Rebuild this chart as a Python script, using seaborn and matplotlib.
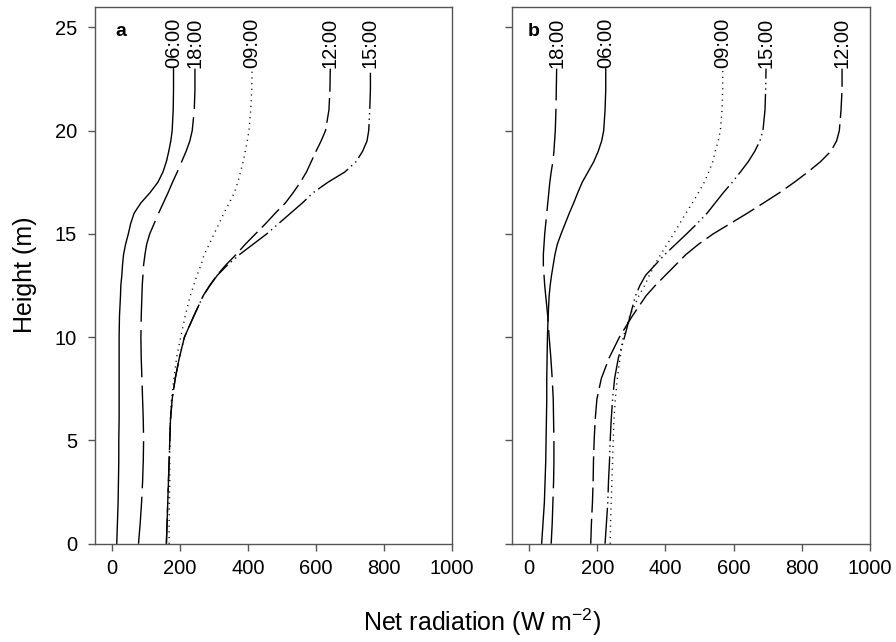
import numpy as np
import pandas as pd
import seaborn as sns
import matplotlib.pyplot as plt

# Heights (m) at which the profiles were read
height = [0, 1, 2, 3, 4, 5, 6, 7, 8, 9, 10, 11, 12, 12.5, 13, 13.5, 14, 14.5,
          15, 15.5, 16, 16.5, 17, 17.5, 18, 18.5, 19, 19.5, 20, 21, 22, 23]

# Panel a: net radiation (W m-2)
a_0600 = [14, 16, 18, 19, 20, 20, 21, 21, 21, 21, 21, 22, 25, 26, 29, 31, 34, 40,
          48, 55, 65, 85, 112, 135, 150, 160, 167, 173, 177, 180, 181, 181]
a_1800 = [78, 83, 87, 90, 92, 93, 92, 90, 88, 86, 85, 86, 88, 89, 91, 93, 97, 102,
          111, 124, 137, 151, 165, 178, 192, 205, 218, 229, 236, 242, 244, 244]
a_0900 = [168, 168, 169, 170, 170, 170, 172, 175, 182, 190, 202, 215, 230, 240, 250, 262, 271, 286,
          300, 315, 329, 345, 360, 370, 378, 386, 392, 398, 403, 408, 411, 412]
a_1200 = [160, 162, 164, 166, 168, 170, 172, 177, 186, 198, 213, 240, 268, 287, 309, 335, 365, 392,
          422, 452, 480, 510, 533, 554, 572, 586, 600, 615, 628, 638, 641, 642]
a_1500 = [160, 162, 164, 166, 168, 170, 172, 177, 186, 198, 213, 240, 268, 288, 310, 340, 375, 415,
          455, 490, 525, 560, 592, 635, 685, 718, 737, 750, 755, 758, 760, 760]

# Panel b: net radiation (W m-2)
b_0600 = [37, 41, 45, 47, 49, 50, 51, 52, 52, 53, 54, 56, 59, 62, 66, 71, 76, 83,
          94, 106, 118, 131, 143, 156, 173, 190, 203, 213, 219, 223, 225, 225]
b_1800 = [65, 68, 70, 72, 73, 73, 72, 71, 68, 64, 59, 55, 49, 46, 44, 42, 42, 44,
          46, 49, 52, 55, 58, 61, 65, 70, 73, 75, 77, 79, 80, 81]
b_0900 = [238, 239, 241, 243, 245, 247, 249, 253, 259, 267, 276, 295, 322, 339, 353, 368, 386, 405,
          424, 442, 460, 479, 497, 514, 527, 539, 546, 555, 561, 566, 568, 568]
b_1200 = [181, 183, 186, 188, 189, 191, 194, 199, 212, 235, 265, 302, 343, 370, 400, 430, 460, 497,
          540, 590, 640, 688, 735, 778, 818, 855, 885, 902, 910, 915, 918, 918]
b_1500 = [223, 227, 231, 233, 236, 238, 241, 245, 251, 262, 280, 296, 312, 325, 342, 370, 398, 430,
          462, 493, 522, 546, 570, 596, 620, 643, 662, 677, 686, 692, 694, 695]

times = ['06:00', '18:00', '09:00', '12:00', '15:00']
panel_a = dict(zip(times, [a_0600, a_1800, a_0900, a_1200, a_1500]))
panel_b = dict(zip(times, [b_0600, b_1800, b_0900, b_1200, b_1500]))

# line dash patterns per time of day
styles = {
    '06:00': None,
    '18:00': (34, 6),
    '09:00': (0.8, 3.3),
    '12:00': (18, 4.5),
    '15:00': (26, 3, 1, 3, 1, 3),
}

sns.set_style('ticks')
plt.rcParams['font.family'] = ['Liberation Sans', 'DejaVu Sans']
plt.rcParams['mathtext.fontset'] = 'custom'
plt.rcParams['mathtext.rm'] = 'Liberation Sans'
plt.rcParams['mathtext.it'] = 'Liberation Sans'
plt.rcParams['text.color'] = 'black'

fig = plt.figure(figsize=(8.96, 6.42), dpi=100)
ax_a = fig.add_axes([0.106, 0.153, 0.3985, 0.8366])
ax_b = fig.add_axes([0.5714, 0.153, 0.3996, 0.8366])

spine_col = '#555555'

for ax, data, tag in [(ax_a, panel_a, 'a'), (ax_b, panel_b, 'b')]:
    for t, vals in data.items():
        df = pd.DataFrame({'x': vals, 'y': height})
        sns.lineplot(data=df, x='x', y='y', orient='y', sort=False,
                     color='black', lw=1.0, ax=ax, legend=False)
        line = ax.lines[-1]
        if styles[t] is not None:
            line.set_dashes(styles[t])
        ax.text(vals[-1], height[-1] + 0.05, t, rotation=90, ha='center',
                va='bottom', fontsize=14.5, color='black')
    ax.set_xlim(-50, 1000)
    ax.set_ylim(0, 26)
    ax.set_xticks([0, 200, 400, 600, 800, 1000])
    ax.set_yticks([0, 5, 10, 15, 20, 25])
    ax.set_xlabel('')
    ax.set_ylabel('')
    for s in ax.spines.values():
        s.set_color(spine_col)
        s.set_linewidth(1.0)
    ax.tick_params(direction='out', length=5, width=1, color=spine_col,
                   labelsize=14.5, labelcolor='black')
    ax.tick_params(axis='y', pad=8)
    ax.tick_params(axis='x', pad=6)
    ax.text(0.056 if tag == 'a' else 0.045, 0.953, tag, transform=ax.transAxes,
            fontsize=14, fontweight='bold', ha='left', va='center', color='black')

ax_b.set_yticklabels([])

fig.text(0.5385, 0.031, 'Net radiation (W m$^{-2}$)', ha='center', va='center', fontsize=18)
fig.text(0.028, 0.572, 'Height (m)', ha='center', va='center', rotation=90, fontsize=18)

fig.savefig('out.png', dpi=100)
